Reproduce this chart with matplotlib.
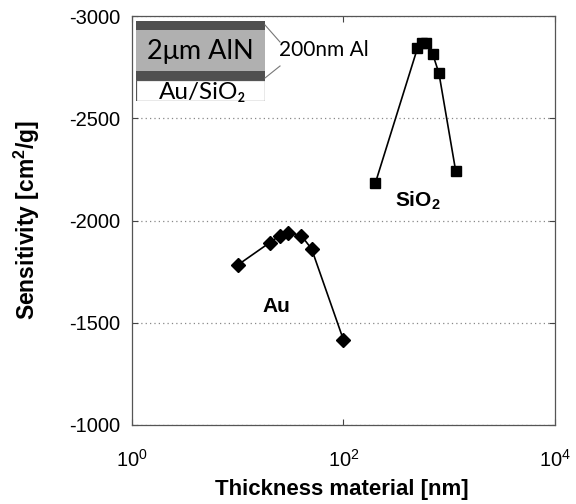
import matplotlib
matplotlib.use("Agg")
import matplotlib.pyplot as plt
from matplotlib.patches import Rectangle

plt.rcParams['font.family'] = ['Liberation Sans', 'DejaVu Sans']
plt.rcParams['mathtext.fontset'] = 'custom'
plt.rcParams['mathtext.rm'] = 'Liberation Sans'
plt.rcParams['mathtext.bf'] = 'Liberation Sans:bold'

# Data
au_thickness = [10, 20, 25, 30, 40, 50, 100]
au_sensitivity = [-1782, -1891, -1926, -1940, -1926, -1861, -1416]
sio2_thickness = [200, 500, 550, 600, 700, 800, 1150]
sio2_sensitivity = [-2182, -2842, -2869, -2869, -2813, -2720, -2244]
y_ticks = [-3000, -2500, -2000, -1500, -1000]
x_ticks = [1, 100, 10000]

fig = plt.figure(figsize=(5.76, 5.04), dpi=100)
ax = fig.add_axes([0.229, 0.157, 0.7345, 0.811])

ax.plot(au_thickness, au_sensitivity, color='black', lw=1.2, marker='D',
        markersize=7.5, markerfacecolor='black', markeredgecolor='black')
ax.plot(sio2_thickness, sio2_sensitivity, color='black', lw=1.2, marker='s',
        markersize=7, markerfacecolor='black', markeredgecolor='black')

ax.set_xscale('log')
ax.set_xlim(1, 10000)
ax.set_ylim(-1000, -3000)
ax.set_xticks(x_ticks)
ax.xaxis.set_minor_locator(matplotlib.ticker.NullLocator())
ax.set_yticks(y_ticks)
ax.set_yticklabels([str(v) for v in y_ticks])
ax.tick_params(axis='both', which='major', direction='in', length=4,
               labelsize=14.5, top=True, right=True, color='#444444')
ax.tick_params(axis='y', pad=8.5)
ax.tick_params(axis='x', pad=17)
ax.yaxis.grid(True, linestyle=(0, (1, 2.5)), color='#888888', linewidth=0.9)
for s in ax.spines.values():
    s.set_color('#555555')
    s.set_linewidth(0.9)

ax.set_xlabel('Thickness material [nm]', fontsize=16, fontweight='bold')
ax.set_ylabel('Sensitivity [cm$^\\mathbf{2}$/g]', fontsize=16.5, fontweight='bold')
ax.xaxis.set_label_coords(0.497, -0.133)
ax.yaxis.set_label_coords(-0.213, 0.5)

ax.text(23, -1577, 'Au', fontsize=15, fontweight='bold', ha='center', va='center')
ax.text(500, -2095, 'SiO$_\\mathbf{2}$', fontsize=15, fontweight='bold', ha='center', va='center')

# Inset schematic
iax = fig.add_axes([136/576, 1 - 101/504, 129/576, 80/504])
iax.set_xlim(0, 1)
iax.set_ylim(0, 1)
iax.axis('off')
iax.add_patch(Rectangle((0, 0), 1, 0.2625, facecolor='white', edgecolor='#555555', lw=0.9))
iax.add_patch(Rectangle((0, 0.2625), 1, 0.1125, facecolor='#505050', edgecolor='none'))
iax.add_patch(Rectangle((0, 0.375), 1, 0.5125, facecolor='#b0b0b0', edgecolor='none'))
iax.add_patch(Rectangle((0, 0.8875), 1, 0.1125, facecolor='#505050', edgecolor='none'))
iax.text(0.5, 0.62, '2\u03bcm AlN', fontsize=19.5, ha='center', va='center',
         family=['Lato', 'DejaVu Sans'])
iax.text(0.52, 0.1, 'Au/SiO\u2082', fontsize=17.5, ha='center', va='center',
         family=['Lato', 'DejaVu Sans'])
fig.text(279/576, 1 - 50/504, '200nm Al', fontsize=15, ha='left', va='center',
         family=['Lato', 'DejaVu Sans'])
fig.add_artist(plt.Line2D([265/576, 280/576], [1 - 25/504, 1 - 42/504], color='#777777', lw=0.8))
fig.add_artist(plt.Line2D([265/576, 280/576], [1 - 78/504, 1 - 66/504], color='#777777', lw=0.8))

fig.savefig('out.png', dpi=100)
